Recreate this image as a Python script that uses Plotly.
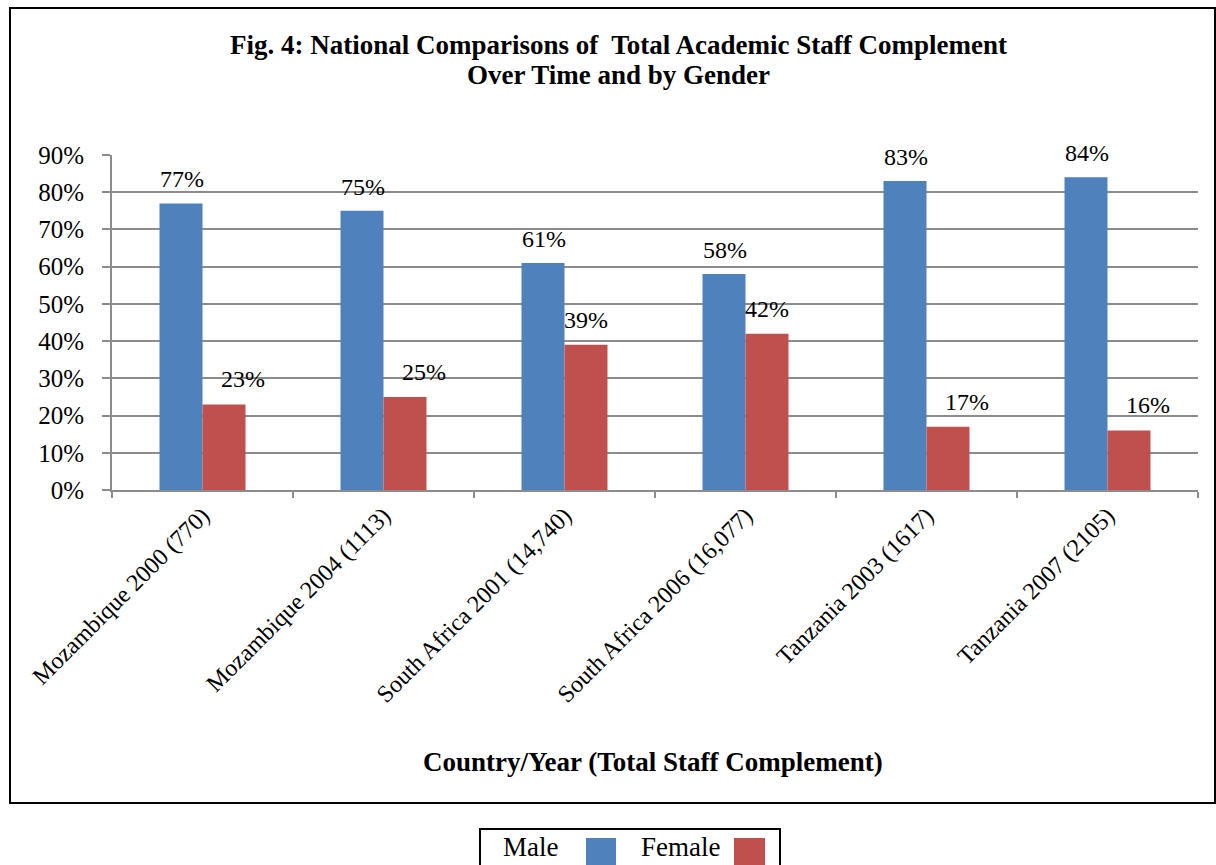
import plotly.graph_objects as go

categories = [
    "Mozambique 2000 (770)",
    "Mozambique 2004 (1113)",
    "South Africa 2001 (14,740)",
    "South Africa 2006 (16,077)",
    "Tanzania 2003 (1617)",
    "Tanzania 2007 (2105)",
]
male = [0.77, 0.75, 0.61, 0.58, 0.83, 0.84]
female = [0.23, 0.25, 0.39, 0.42, 0.17, 0.16]
series_names = ["Male", "Female"]
tick_vals = [0, 0.1, 0.2, 0.3, 0.4, 0.5, 0.6, 0.7, 0.8, 0.9]
title_lines = ["Fig. 4: National Comparisons of  Total Academic Staff Complement",
               "Over Time and by Gender"]
x_title = "Country/Year (Total Staff Complement)"

BLUE = "#4F81BD"
RED = "#C0504D"
SERIF = "Liberation Serif, Times New Roman, serif"

fig = go.Figure()
fig.add_trace(go.Bar(x=categories, y=male, name=series_names[0], marker_color=BLUE,
                     marker_line_width=0, showlegend=False))
fig.add_trace(go.Bar(x=categories, y=female, name=series_names[1], marker_color=RED,
                     marker_line_width=0, showlegend=False))

# data labels (Excel-like: small female labels nudged to the right)
label_font = dict(family=SERIF, size=24, color="black")
for c, v in zip(categories, male):
    fig.add_annotation(x=c, y=v, text=f"{v:.0%}", showarrow=False, xshift=-21,
                       yanchor="middle", yshift=24, font=label_font)
for c, v in zip(categories, female):
    fig.add_annotation(x=c, y=v, text=f"{v:.0%}", showarrow=False,
                       xshift=21 + (19 if v < 0.3 else 0),
                       yanchor="middle", yshift=25, font=label_font)

L, R, T, B = 112, 1198, 155, 490
W, H = 1216, 865
pw, ph = R - L, B - T


def px_x(x):
    return (x - L) / pw


def px_y(y):
    return (B - y) / ph


# outer frame
fig.add_shape(type="rect", xref="paper", yref="paper",
              x0=px_x(10), x1=px_x(1215), y0=px_y(803), y1=px_y(8),
              line=dict(color="black", width=2), fillcolor="rgba(0,0,0,0)", layer="below")

# chart title
title_font = dict(family=SERIF, size=27, color="black")
for line, yc in zip(title_lines, [45, 75]):
    fig.add_annotation(xref="paper", yref="paper", x=px_x(618), y=px_y(yc),
                       xanchor="center", yanchor="middle", text=f"<b>{line}</b>",
                       showarrow=False, font=title_font)

# x axis title
fig.add_annotation(xref="paper", yref="paper", x=px_x(653), y=px_y(762),
                   xanchor="center", yanchor="middle", text=f"<b>{x_title}</b>",
                   showarrow=False, font=dict(family=SERIF, size=27, color="black"))

# custom legend (text then swatch)
fig.add_shape(type="rect", xref="paper", yref="paper",
              x0=px_x(480), x1=px_x(780), y0=px_y(880), y1=px_y(829),
              line=dict(color="black", width=2), fillcolor="white")
legend_font = dict(family=SERIF, size=27, color="black")
fig.add_annotation(xref="paper", yref="paper", x=px_x(530), y=px_y(847),
                   xanchor="center", yanchor="middle", text=series_names[0],
                   showarrow=False, font=legend_font)
fig.add_shape(type="rect", xref="paper", yref="paper",
              x0=px_x(586), x1=px_x(616), y0=px_y(866), y1=px_y(838),
              line=dict(width=0), fillcolor=BLUE)
fig.add_annotation(xref="paper", yref="paper", x=px_x(680), y=px_y(847),
                   xanchor="center", yanchor="middle", text=series_names[1],
                   showarrow=False, font=legend_font)
fig.add_shape(type="rect", xref="paper", yref="paper",
              x0=px_x(734), x1=px_x(765), y0=px_y(866), y1=px_y(838),
              line=dict(width=0), fillcolor=RED)

fig.update_layout(
    width=W, height=H,
    margin=dict(l=L, r=W - R, t=T, b=H - B, autoexpand=False),
    paper_bgcolor="white", plot_bgcolor="white",
    barmode="group", bargap=0.525, bargroupgap=0,
    font=dict(family=SERIF, color="black"),
)
fig.update_yaxes(range=[0, 0.9], tickvals=tick_vals, tickformat=".0%",
                 showgrid=True, gridcolor="#8c8c8c", gridwidth=2,
                 showline=True, linecolor="#8c8c8c", linewidth=2,
                 ticks="outside", ticklen=8, tickcolor="#8c8c8c", tickwidth=2,
                 ticklabelstandoff=13,
                 tickfont=dict(family=SERIF, size=25, color="black"), zeroline=False)
fig.update_xaxes(showline=True, linecolor="#8c8c8c", linewidth=2,
                 ticks="outside", tickson="boundaries", ticklen=6, tickcolor="#8c8c8c", tickwidth=2,
                 tickangle=-45, tickfont=dict(family=SERIF, size=24, color="black"))

fig.write_html("out.html", config={"displayModeBar": False},
               post_script="document.body.style.margin='0';")
